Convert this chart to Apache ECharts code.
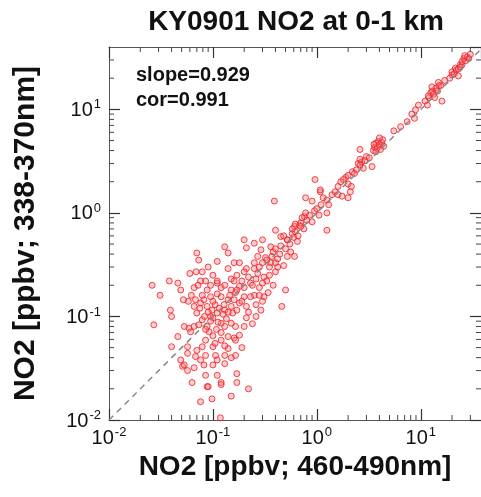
<!DOCTYPE html>
<html>
<head>
<meta charset="utf-8">
<script src="https://cdn.jsdelivr.net/npm/echarts@6/dist/echarts.min.js"></script>
<style>
  html, body { margin: 0; background: #fff; }
  #chart { width: 481px; height: 497px; }
</style>
</head>
<body>
<div id="chart"></div>
<script>
  // values: [NO2 460-490nm, NO2 338-370nm] in ppbv
  const lowCluster = [
    [0.026, 0.2], [0.031, 0.16], [0.027, 0.083], [0.038, 0.22], [0.046, 0.21], [0.049, 0.18],
    [0.039, 0.115], [0.04, 0.1], [0.046, 0.064], [0.04, 0.051], [0.049, 0.038], [0.051, 0.033],
    [0.057, 0.03], [0.053, 0.08], [0.059, 0.077], [0.06, 0.26], [0.07, 0.41], [0.073, 0.35],
    [0.069, 0.27], [0.079, 0.27], [0.085, 0.22], [0.076, 0.22], [0.066, 0.19], [0.11, 0.34],
    [0.11, 0.21], [0.13, 0.47], [0.14, 0.41], [0.16, 0.33], [0.2, 0.55], [0.21, 0.46],
    [0.18, 0.33], [0.21, 0.29], [0.14, 0.29], [0.11, 0.22], [0.12, 0.19], [0.16, 0.22],
    [0.19, 0.22], [0.25, 0.29], [0.23, 0.21], [0.25, 0.16], [0.31, 0.155], [0.46, 0.125],
    [0.5, 0.18], [0.31, 0.24], [0.33, 0.22], [0.4, 0.27]
  ]
  const denseCore = [
    [0.095, 0.1], [0.1, 0.097], [0.11, 0.108], [0.098, 0.115], [0.088, 0.125], [0.082, 0.145],
    [0.076, 0.135], [0.066, 0.125], [0.07, 0.108], [0.066, 0.08], [0.073, 0.083], [0.079, 0.093],
    [0.061, 0.071], [0.088, 0.08], [0.092, 0.071], [0.085, 0.059], [0.079, 0.051], [0.07, 0.047],
    [0.068, 0.041], [0.076, 0.038], [0.085, 0.042], [0.1, 0.051], [0.106, 0.042], [0.1, 0.034],
    [0.082, 0.034], [0.085, 0.027], [0.11, 0.027], [0.12, 0.023], [0.088, 0.021], [0.063, 0.023],
    [0.076, 0.015], [0.098, 0.016], [0.15, 0.017], [0.22, 0.02], [0.17, 0.023], [0.17, 0.028],
    [0.13, 0.035], [0.13, 0.042], [0.11, 0.038], [0.165, 0.042], [0.14, 0.049], [0.12, 0.059],
    [0.14, 0.064], [0.16, 0.062], [0.18, 0.066], [0.165, 0.08], [0.15, 0.086], [0.13, 0.08],
    [0.12, 0.086], [0.13, 0.115], [0.155, 0.108], [0.17, 0.115], [0.18, 0.135], [0.21, 0.125],
    [0.23, 0.155], [0.2, 0.155], [0.16, 0.145], [0.14, 0.145], [0.12, 0.155], [0.11, 0.165],
    [0.095, 0.155], [0.088, 0.18], [0.079, 0.16], [0.068, 0.145], [0.058, 0.14], [0.052, 0.145],
    [0.18, 0.195], [0.17, 0.18], [0.15, 0.18], [0.13, 0.2], [0.29, 0.115], [0.26, 0.1],
    [0.21, 0.097], [0.165, 0.059], [0.057, 0.051], [0.057, 0.044], [0.053, 0.034], [0.066, 0.032],
    [0.118, 0.0105], [0.09, 0.021], [0.12, 0.022], [0.105, 0.13], [0.115, 0.12], [0.125, 0.105],
    [0.135, 0.095], [0.095, 0.09], [0.1, 0.14], [0.108, 0.075], [0.12, 0.07], [0.14, 0.11],
    [0.15, 0.125], [0.09, 0.11], [0.083, 0.1], [0.1, 0.065], [0.112, 0.088], [0.128, 0.13],
    [0.145, 0.16], [0.165, 0.17], [0.19, 0.14], [0.2, 0.19], [0.22, 0.24], [0.24, 0.2],
    [0.26, 0.23], [0.28, 0.19], [0.27, 0.26], [0.3, 0.21], [0.35, 0.25], [0.38, 0.2],
    [0.42, 0.3], [0.36, 0.33], [0.2, 0.27], [0.17, 0.25], [0.15, 0.23], [0.1, 0.25],
    [0.09, 0.3], [0.072, 0.2], [0.062, 0.16], [0.095, 0.2], [0.075, 0.12], [0.085, 0.075],
    [0.105, 0.055], [0.13, 0.052], [0.15, 0.04], [0.19, 0.05], [0.2, 0.08], [0.24, 0.085],
    [0.22, 0.11], [0.26, 0.13], [0.3, 0.14], [0.34, 0.17], [0.28, 0.16]
  ]
  const midBand = [
    [0.29, 0.44], [0.3, 0.55], [0.36, 0.47], [0.4, 0.68], [0.45, 0.59], [0.52, 0.55],
    [0.61, 0.74], [0.68, 0.76], [0.76, 0.92], [0.39, 1.3], [0.25, 0.51], [0.32, 0.37],
    [0.37, 0.38], [0.4, 0.33], [0.48, 0.31], [0.61, 0.38], [0.65, 0.53], [0.58, 0.63],
    [0.35, 0.3], [0.38, 0.42], [0.42, 0.36], [0.45, 0.48], [0.5, 0.45], [0.48, 0.6],
    [0.55, 0.5], [0.6, 0.58], [0.62, 0.66], [0.66, 0.6], [0.7, 0.8], [0.75, 0.7],
    [0.8, 0.85], [0.85, 0.95], [0.9, 0.82], [0.95, 1.05], [1.0, 1.1], [1.05, 0.95],
    [1.1, 1.2], [0.56, 0.42], [0.52, 0.38], [0.44, 0.4], [0.4, 0.45], [0.33, 0.35],
    [0.3, 0.33], [0.28, 0.3], [0.27, 0.38], [0.25, 0.33], [0.9, 1.3], [1.15, 1.4],
    [1.3, 1.2], [1.4, 1.5], [1.5, 1.6], [1.6, 1.8], [1.7, 2.0], [1.9, 2.2],
    [2.0, 1.9], [2.2, 2.5], [2.4, 2.6], [2.5, 3.0], [2.7, 3.1], [2.8, 2.7],
    [0.72, 0.9], [0.62, 0.78], [0.58, 0.7], [0.96, 2.1], [1.08, 1.6], [0.78, 1.0],
    [1.25, 1.33], [1.25, 1.0], [1.25, 0.68], [0.7, 0.74], [0.52, 0.55], [1.08, 1.67],
    [0.78, 1.4], [1.8, 2.1], [2.1, 1.6]
  ]
  const highBand = [
    [2.6, 2.9], [3.5, 4.0], [3.6, 4.3], [3.7, 4.7], [3.8, 4.2], [3.9, 4.9], [4.0, 4.5],
    [4.1, 4.1], [4.2, 4.8], [4.3, 5.1], [3.7, 3.9], [4.4, 4.4], [3.55, 4.6], [4.0, 5.3],
    [2.6, 4.1], [2.6, 3.3], [2.9, 3.2], [3.0, 3.5], [2.3, 2.4], [2.0, 1.4], [2.15, 1.8],
    [1.6, 1.5], [1.75, 1.45], [2.0, 2.3], [3.2, 3.4], [3.4, 2.8], [5.5, 6.2], [6.4, 6.8],
    [7.4, 7.6], [8.2, 9.0], [8.9, 9.9], [9.5, 11], [8.7, 8.2], [11, 12], [11.6, 11],
    [12, 13], [12.5, 14.5], [13, 15], [13.3, 14], [13.6, 13], [14, 16], [14.5, 15],
    [15, 17], [15.6, 17], [16, 12], [17, 19], [12.8, 16.5], [11.8, 13.5], [14.8, 18.2],
    [19, 20], [20, 21.5], [20, 23], [21, 22], [21.5, 25], [22, 24], [23, 24.5], [24, 27],
    [25, 27], [25, 29], [26, 31], [27, 29.5], [28, 32], [29, 31], [30, 34], [26.5, 33],
    [24, 25.5], [23, 21]
  ]
  const oneToOne = [[0.01, 0.01], [40, 40]]
  const minorTickVals = [
    0.02, 0.03, 0.04, 0.05, 0.06, 0.07, 0.08, 0.09,
    0.2, 0.3, 0.4, 0.5, 0.6, 0.7, 0.8, 0.9,
    2, 3, 4, 5, 6, 7, 8, 9, 20, 30
  ]
  const xRange = [0.01, 38]
  const yRange = [0.01, 40]

  const font = 'Liberation Sans, Arial, sans-serif'
  const chart = echarts.init(document.getElementById('chart'))

  const powLabel = v => {
    const e = Math.log10(v)
    if (Math.abs(e - Math.round(e)) > 1e-6) return ''
    return '{b|10}{s|' + Math.round(e) + '}'
  }
  const labelRich = {
    b: { fontSize: 20, fontFamily: font, color: '#111', lineHeight: 22, verticalAlign: 'bottom' },
    s: { fontSize: 13, fontFamily: font, color: '#111', lineHeight: 22, verticalAlign: 'top', padding: [0, 0, 0, 1] }
  }
  const boxLine = { show: true, onZero: false, lineStyle: { color: '#555', width: 1 } }
  const majorTick = { show: true, inside: true, length: 11, lineStyle: { color: '#333', width: 1.2 } }
  const nameStyle = { fontSize: 28, fontWeight: 'bold', fontFamily: font, color: '#111' }

  const option = {
    animation: false,
    backgroundColor: '#fff',
    grid: { left: 109, right: 0, top: 47, bottom: 77 },
    xAxis: [
      {
        type: 'log', logBase: 10, min: xRange[0], max: xRange[1], position: 'bottom',
        axisLine: boxLine, axisTick: majorTick, splitLine: { show: false },
        axisLabel: { margin: 6, formatter: powLabel, rich: labelRich, showMaxLabel: false },
        name: 'NO2 [ppbv; 460-490nm]', nameLocation: 'middle', nameGap: 33, nameTextStyle: nameStyle
      },
      {
        type: 'log', logBase: 10, min: xRange[0], max: xRange[1], position: 'top',
        axisLine: boxLine, axisTick: majorTick, splitLine: { show: false }, axisLabel: { show: false }
      }
    ],
    yAxis: [
      {
        type: 'log', logBase: 10, min: yRange[0], max: yRange[1], position: 'left',
        axisLine: boxLine, axisTick: majorTick, splitLine: { show: false },
        axisLabel: { margin: 8, formatter: powLabel, rich: labelRich, showMaxLabel: false },
        name: 'NO2 [ppbv; 338-370nm]', nameLocation: 'middle', nameGap: 68,
        nameTextStyle: { ...nameStyle, fontSize: 30 }
      },
      {
        type: 'log', logBase: 10, min: yRange[0], max: yRange[1], position: 'right',
        axisLine: boxLine, axisTick: majorTick, splitLine: { show: false }, axisLabel: { show: false }
      }
    ],
    graphic: [
      { type: 'text', style: { text: 'KY0901 NO2 at 0-1 km', x: 296, y: 22, textAlign: 'center', textVerticalAlign: 'middle', font: 'bold 28px ' + font, fill: '#111' } },
      { type: 'text', style: { text: 'slope=0.929', x: 136, y: 75, textAlign: 'left', textVerticalAlign: 'middle', font: 'bold 20px ' + font, fill: '#111' } },
      { type: 'text', style: { text: 'cor=0.991', x: 136, y: 100, textAlign: 'left', textVerticalAlign: 'middle', font: 'bold 20px ' + font, fill: '#111' } }
    ],
    series: [
      {
        type: 'scatter',
        data: [...lowCluster, ...denseCore, ...midBand, ...highBand],
        symbol: 'circle',
        symbolSize: 6,
        itemStyle: { color: 'rgba(255,120,120,0.45)', borderColor: '#ec1c24', borderWidth: 1 },
        silent: true,
        z: 2
      },
      {
        type: 'line',
        data: oneToOne,
        symbol: 'none',
        clip: true,
        lineStyle: { color: '#888', width: 1.5, type: [6, 5] },
        silent: true,
        z: 3
      },
      {
        // minor ticks on all four sides of the box
        type: 'custom',
        data: minorTickVals.map(v => [v, v]),
        silent: true,
        z: 4,
        renderItem (params, api) {
          const v = api.value(0)
          const cs = params.coordSys
          const x = api.coord([v, 1])[0]
          const y = api.coord([1, v])[1]
          const style = { stroke: '#444', lineWidth: 1 }
          const kids = []
          if (v < xRange[1]) {
            kids.push({ type: 'line', shape: { x1: x, y1: cs.y + cs.height, x2: x, y2: cs.y + cs.height - 5 }, style })
            kids.push({ type: 'line', shape: { x1: x, y1: cs.y, x2: x, y2: cs.y + 5 }, style })
          }
          if (v < yRange[1]) {
            kids.push({ type: 'line', shape: { x1: cs.x, y1: y, x2: cs.x + 5, y2: y }, style })
            kids.push({ type: 'line', shape: { x1: cs.x + cs.width, y1: y, x2: cs.x + cs.width - 5, y2: y }, style })
          }
          return { type: 'group', children: kids }
        }
      }
    ]
  }

  chart.setOption(option)
</script>
</body>
</html>
